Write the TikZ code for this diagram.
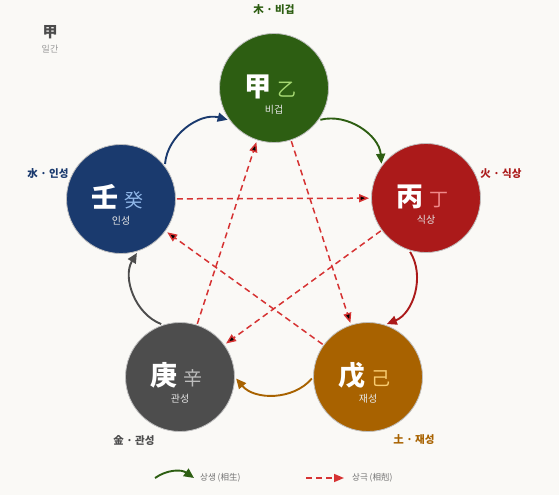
\documentclass[tikz,border=0pt]{standalone}
\usepackage{fontspec}
\newfontfamily\kr{Noto Sans CJK KR}
\usetikzlibrary{arrows.meta,positioning}

\definecolor{bg}{HTML}{FAF9F6}
\definecolor{cwood}{HTML}{2D5E12}
\definecolor{cfire}{HTML}{AB1A1A}
\definecolor{cearth}{HTML}{A86200}
\definecolor{cmetal}{HTML}{4D4D4D}
\definecolor{cwater}{HTML}{1A3A6E}
\definecolor{cwoodl}{HTML}{A6D873}
\definecolor{cfirel}{HTML}{F08A8A}
\definecolor{cearthl}{HTML}{F8CC70}
\definecolor{cmetall}{HTML}{BDBDBD}
\definecolor{cwaterl}{HTML}{8FB6E8}
\definecolor{cdash}{HTML}{D63333}

\newcommand\bigch[1]{{\rule{0pt}{34pt}\bfseries\fontsize{27}{30}\selectfont #1}}
\newcommand\minorch[2]{{\color{#1}\fontsize{19}{22}\selectfont #2}}
\newcommand\subtxt[1]{{\color{white!90!black}\fontsize{10}{12}\selectfont #1}}

\tikzset{
  elem/.style={circle, minimum size=109pt, inner sep=0pt, draw=black!25,
    line width=0.8pt, text=white, align=center, font=\kr},
  gen/.style={-{Triangle[length=10pt,width=9pt]}, line width=1.9pt,
    shorten <=2pt, shorten >=2pt},
  ctrl/.style={-{Triangle[length=10pt,width=8pt]}, draw=cdash, line width=1.5pt,
    dash pattern=on 6pt off 4pt, shorten <=1pt, shorten >=2pt},
  tag/.style={font=\kr\bfseries\fontsize{10.5}{12}\selectfont, inner sep=0pt},
  legtxt/.style={font=\kr\fontsize{8.5}{10}\selectfont, text=black!55, inner sep=0pt}
}

\begin{document}
\begin{tikzpicture}[x=1pt, y=1pt]
\fill[bg] (0,0) rectangle (559,-495);
\useasboundingbox (0,0) rectangle (559,-495);

% day stem
\node[font=\kr\bfseries\fontsize{15}{16}\selectfont, text=black!70, inner sep=0pt] (ilgan) at (50,-32) {甲};
\node[legtxt, text=black!40, font=\kr\fontsize{9}{10}\selectfont, below=6pt of ilgan] (ilganlbl) {일간};

% five elements
\node[elem, fill=cwood] (wood) at (274,-88)
  {\bigch{甲}\hspace{6pt}\minorch{cwoodl}{乙}\hspace*{7pt}\\[5pt]\subtxt{비겁}};
\node[elem, fill=cfire] (fire) at (426,-198)
  {\bigch{丙}\hspace{6pt}\minorch{cfirel}{丁}\hspace*{7pt}\\[5pt]\subtxt{식상}};
\node[elem, fill=cearth] (earth) at (368,-377)
  {\bigch{戊}\hspace{6pt}\minorch{cearthl}{己}\hspace*{7pt}\\[5pt]\subtxt{재성}};
\node[elem, fill=cmetal] (metal) at (180,-377)
  {\bigch{庚}\hspace{6pt}\minorch{cmetall}{辛}\hspace*{7pt}\\[5pt]\subtxt{관성}};
\node[elem, fill=cwater] (water) at (121,-199)
  {\bigch{壬}\hspace{6pt}\minorch{cwaterl}{癸}\hspace*{7pt}\\[5pt]\subtxt{인성}};

\node[tag, text=cwood] (woodtag) at (274,-10) {木 · 비겁};
\node[tag, text=cfire] (firetag) at (501,-174) {火 · 식상};
\node[tag, text=cearth] (earthtag) at (414,-440) {土 · 재성};
\node[tag, text=cmetal] (metaltag) at (134,-440) {金 · 관성};
\node[tag, text=cwater] (watertag) at (48,-174) {水 · 인성};

% sangsaeng
\path[gen]
  (water.37) edge[bend left=50, cwater] (wood.216)
  (wood.-36) edge[bend left=50, cwood] (fire.144)
  (fire.-108) edge[bend left=50, cfire] (earth.72)
  (earth.180) edge[bend left=50, cearth] (metal.0)
  (metal.108) edge[bend left=50, cmetal] (water.-72);

% sanggeuk
\path[ctrl]
  (wood) edge (earth)
  (earth) edge (water)
  (water) edge (fire)
  (fire) edge (metal)
  (metal) edge (wood);

% legend
\coordinate (g0) at (155,-478);
\coordinate (g1) at (194,-478);
\coordinate (k0) at (306,-478);
\coordinate (k1) at (344,-478);
\draw[gen, cwood, shorten <=0pt, shorten >=0pt] (g0) to[bend left=35] (g1);
\draw[ctrl, shorten <=0pt, shorten >=0pt] (k0) -- (k1);
\node[legtxt, right=6pt of g1] (sslbl) {상생 (相生)};
\node[legtxt, right=8pt of k1] (sglbl) {상극 (相剋)};
\end{tikzpicture}
\end{document}
